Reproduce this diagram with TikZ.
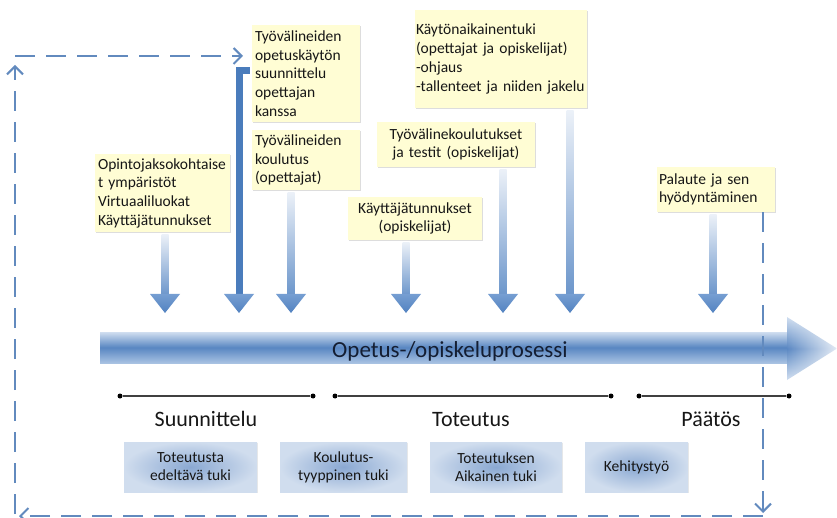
\documentclass[tikz,border=0pt]{standalone}
\usepackage{fontspec}
\setmainfont{Carlito}
\usetikzlibrary{arrows.meta,calc,shadows,fadings}

\definecolor{loopblue}{RGB}{98,138,190}
\definecolor{notefill}{RGB}{255,253,212}
\definecolor{shaftlight}{RGB}{236,241,248}
\definecolor{shaftdark}{RGB}{108,150,203}
\definecolor{headtop}{RGB}{118,158,210}
\definecolor{headbot}{RGB}{82,130,192}
\definecolor{bardark}{RGB}{74,124,188}
\definecolor{flowlight}{RGB}{208,222,240}
\definecolor{flowmid}{RGB}{88,134,194}
\definecolor{flowlow}{RGB}{168,194,226}
\definecolor{phasein}{RGB}{138,168,210}
\definecolor{phaseout}{RGB}{208,221,238}
\definecolor{ink}{RGB}{22,22,22}
\definecolor{flowink}{RGB}{20,30,50}

\tikzset{
  note/.style={fill=notefill, inner xsep=3pt, inner ysep=0pt, text=ink,
    font=\fontsize{15.5}{18.7}\selectfont,
    drop shadow={shadow xshift=1.2pt, shadow yshift=-1.4pt, opacity=0.22, fill=black!60}},
  phasebox/.style={shading=radial, inner color=phasein, outer color=phaseout,
    inner sep=0pt, align=center, text=ink, font=\fontsize{15.5}{18}\selectfont,
    drop shadow={shadow xshift=1pt, shadow yshift=-1.2pt, opacity=0.15, fill=black!60}},
  loopline/.style={loopblue, line width=2.6pt, dash pattern=on 20pt off 11pt,
    -{Straight Barb[length=8pt,width=16pt,line width=2pt]}},
  milestone/.style={circle, fill=black, inner sep=0pt, minimum size=5pt},
  phaseline/.style={line width=1.4pt, black!75},
  phaselabel/.style={anchor=base, font=\fontsize{22}{26}\selectfont, text=ink},
}

% shaft from a note down to a tip, with a wide triangular head
\newcommand\feedarrow[2]{%
  \shade[top color=shaftlight, bottom color=shaftdark]
    ($(#1.south -| #2)+(-3.5,2)$) rectangle ($(#2)+(3.5,-18)$);
  \shade[top color=headtop, bottom color=headbot]
    ($(#2)+(-15,-19)$) -- ($(#2)+(15,-19)$) -- (#2) -- cycle;
}

\begin{document}
\begin{tikzpicture}[x=1pt, y=-1pt]
\useasboundingbox (0,0) rectangle (837,518);

% main process arrow
\shade[top color=flowlight, bottom color=flowlow, middle color=flowmid]
  (100,332) rectangle (790,363);
\shade[top color=flowlight, bottom color=flowlight, middle color=flowmid]
  (787,317) -- (837,348.5) -- (787,380) -- cycle;
\fill[white, opacity=0.85, path fading=west] (786,314) rectangle (838,383);
\node[anchor=base, font=\fontsize{23}{27}\selectfont, text=flowink] (flow) at (450,357)
  {Opetus-/opiskeluprosessi};

% support notes
\node[note, text width=129pt, minimum height=78pt, align=left] (n1) at (162.5,193)
  {Opintojaksokohtaise\\t ympäristöt\\Virtuaaliluokat\\Käyttäjätunnukset};
\node[note, text width=102pt, minimum height=97pt, align=left] (n2) at (306,73.5)
  {Työvälineiden\\opetuskäytön\\suunnittelu\\opettajan\\kanssa};
\node[note, text width=102pt, minimum height=60pt, align=left] (n3) at (306,160)
  {Työvälineiden\\koulutus\\(opettajat)};
\node[note, inner xsep=1pt, text width=170pt, minimum height=98pt, align=left] (n4) at (501,59)
  {Käytönaikainentuki\\(opettajat~ja~opiskelijat)\\-ohjaus\\-tallenteet~ja~niiden~jakelu};
\node[note, text width=152pt, minimum height=45pt, align=center] (n5) at (456,144.5)
  {Työvälinekoulutukset\\ja~testit~(opiskelijat)};
\node[note, text width=128pt, minimum height=43pt, align=center] (n6) at (415,218.5)
  {Käyttäjätunnukset\\(opiskelijat)};
\node[note, inner xsep=2pt, text width=114pt, minimum height=45pt, align=left] (n7) at (716,189.5)
  {Palaute~ja~sen\\hyödyntäminen};

% arrow tips on the process arrow
\coordinate (t1) at (165,313);
\coordinate (t2) at (239,313);
\coordinate (t3) at (291,313);
\coordinate (t4) at (406,313);
\coordinate (t5) at (503,313);
\coordinate (t6) at (570,313);
\coordinate (t7) at (713,313);

\feedarrow{n1}{t1}
\feedarrow{n3}{t3}
\feedarrow{n6}{t4}
\feedarrow{n5}{t5}
\feedarrow{n4}{t6}
\feedarrow{n7}{t7}

% elbow bar from the planning note
\draw[bardark, line width=7pt] ($(n2.north west)+(-2,46)$) -| ($(t2)+(0,-18)$);
\shade[top color=headtop, bottom color=headbot]
  ($(t2)+(-15,-19)$) -- ($(t2)+(15,-19)$) -- (t2) -- cycle;

% phases
\node[milestone] (m1) at (120,396) {};
\node[milestone] (m2) at (313,396) {};
\node[milestone] (m3) at (335,396) {};
\node[milestone] (m4) at (611,396) {};
\node[milestone] (m5) at (639,396) {};
\node[milestone] (m6) at (789,396) {};
\draw[phaseline] (m1) -- (m2);
\draw[phaseline] (m3) -- (m4);
\draw[phaseline] (m5) -- (m6);

\node[phaselabel] (l1) at (206,426) {Suunnittelu};
\node[phaselabel] (l2) at (471,426) {Toteutus};
\node[phaselabel] (l3) at (711,426) {Päätös};

% support types
\node[phasebox, minimum width=133pt, minimum height=50pt] (s1) at (190.5,467)
  {Toteutusta\\edeltävä tuki};
\node[phasebox, minimum width=127pt, minimum height=50pt] (s2) at (343.5,467)
  {Koulutus-\\tyyppinen tuki};
\node[phasebox, minimum width=132pt, minimum height=50pt] (s3) at (496,467)
  {Toteutuksen\\Aikainen tuki};
\node[phasebox, minimum width=103pt, minimum height=50pt] (s4) at (636.5,467)
  {Kehitystyö};

% feedback loop
\coordinate (fb1) at (763,513);
\coordinate (fb2) at (763,516);
\coordinate (fb3) at (19,516);
\coordinate (fb4) at (15,514);
\coordinate (fb5) at (15,65);
\coordinate (fb6) at (15,56);
\coordinate (fb7) at (243,56);
\draw[loopline] (n7.south -| fb1) -- (fb1);
\draw[loopline] (fb2) -- (fb3);
\draw[loopline] (fb4) -- (fb5);
\draw[loopline] (fb6) -- (fb7);
\end{tikzpicture}
\end{document}
